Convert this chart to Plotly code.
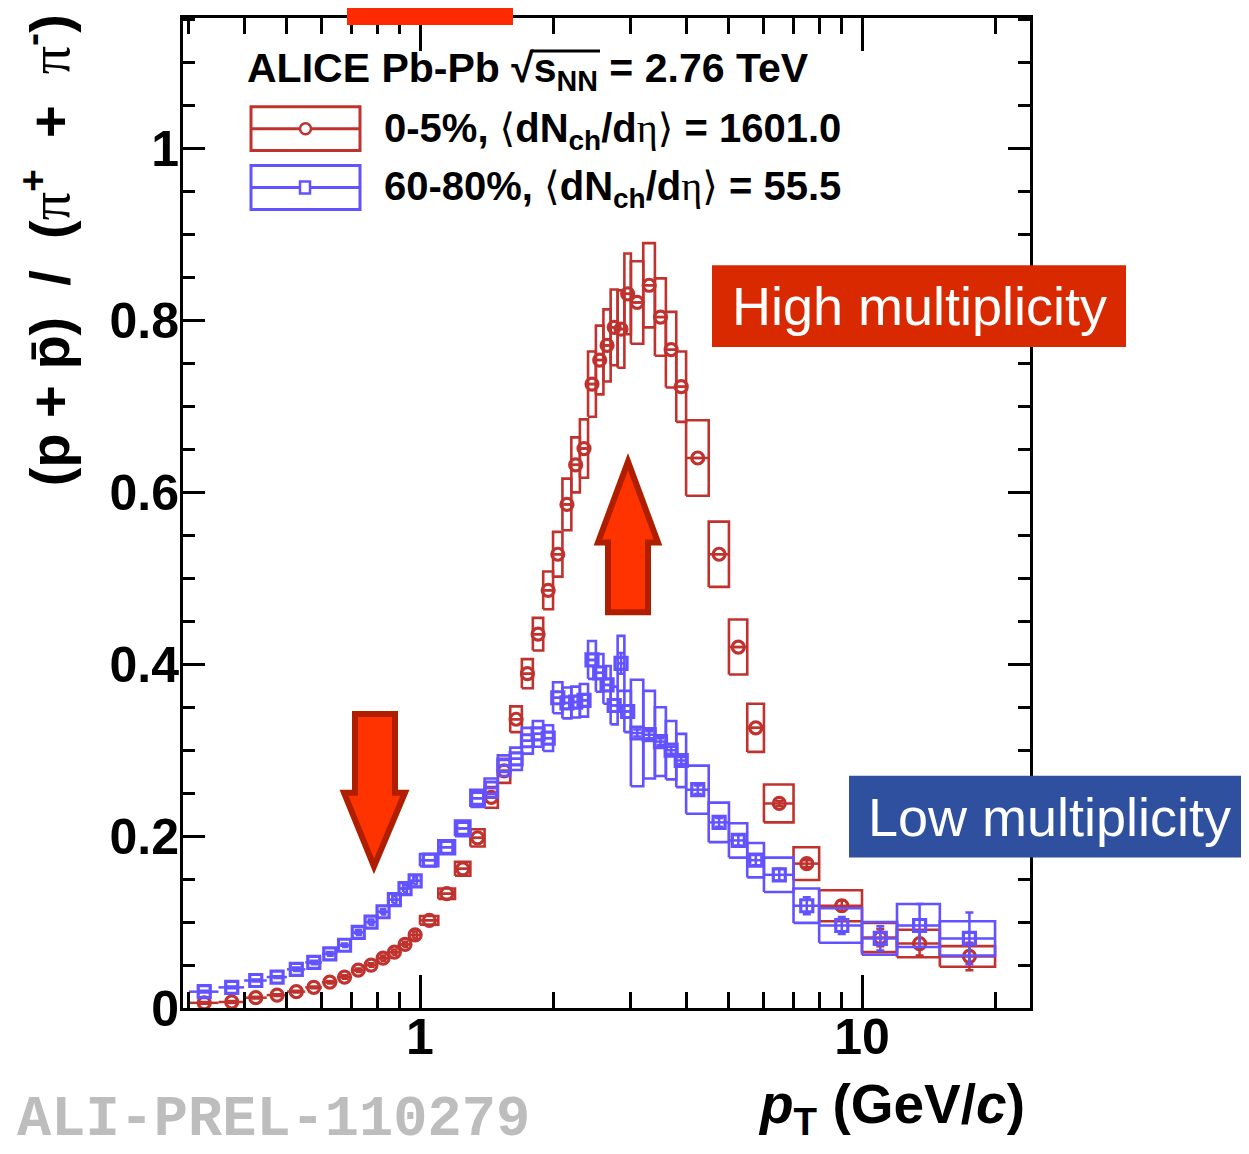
import plotly.graph_objects as go

# ---------------- data ----------------
pt = [0.325, 0.375, 0.425, 0.475, 0.525, 0.575, 0.625, 0.675, 0.725, 0.775,
      0.825, 0.875, 0.925, 0.975,
      1.05, 1.15, 1.25, 1.35, 1.45, 1.55, 1.65, 1.75, 1.85, 1.95,
      2.05, 2.15, 2.25, 2.35, 2.45, 2.55, 2.65, 2.75, 2.85, 2.95,
      3.1, 3.3, 3.5, 3.7, 3.9,
      4.25, 4.75, 5.25, 5.75, 6.5, 7.5, 9.0, 11.0, 13.5, 17.5]
pt_halfbin = [0.025] * 14 + [0.05] * 20 + [0.1] * 5 + [0.25] * 4 + [0.5, 0.5, 1.0, 1.0, 1.5, 2.5]
box_halfwidth = [0.009] * 14 + [0.05] * 20 + [0.1] * 5 + [0.25] * 4 + [0.5, 0.5, 1.0, 1.0, 1.5, 2.5]

central_ratio = [0.006, 0.007, 0.012, 0.015, 0.019, 0.024, 0.030, 0.036, 0.044, 0.050,
                 0.058, 0.065, 0.074, 0.085,
                 0.102, 0.133, 0.162, 0.198, 0.245, 0.276, 0.336, 0.389, 0.435, 0.486,
                 0.528, 0.586, 0.632, 0.651, 0.726, 0.754, 0.771, 0.792, 0.790, 0.831,
                 0.821, 0.841, 0.804, 0.766, 0.723,
                 0.640, 0.528, 0.420, 0.326, 0.238, 0.168, 0.119, 0.082, 0.075, 0.060]
central_sys = [0.001, 0.001, 0.001, 0.001, 0.001, 0.001, 0.0015, 0.002, 0.002, 0.002,
               0.003, 0.003, 0.003, 0.004,
               0.005, 0.006, 0.008, 0.010, 0.012, 0.014, 0.015, 0.017, 0.019, 0.022,
               0.026, 0.030, 0.032, 0.034, 0.038, 0.040, 0.042, 0.044, 0.045, 0.047,
               0.048, 0.049, 0.045, 0.044, 0.041,
               0.044, 0.038, 0.032, 0.028, 0.022, 0.019, 0.018, 0.017, 0.016, 0.012]
central_stat = [0.0] * 43 + [0.003, 0.004, 0.006, 0.010, 0.014, 0.016]

peripheral_ratio = [0.019, 0.024, 0.032, 0.036, 0.045, 0.053, 0.063, 0.073, 0.088, 0.100,
                    0.112, 0.126, 0.139, 0.148,
                    0.172, 0.187, 0.209, 0.244, 0.256, 0.282, 0.290, 0.311, 0.319, 0.314,
                    0.361, 0.355, 0.356, 0.358, 0.405, 0.390, 0.376, 0.352, 0.401, 0.345,
                    0.320, 0.318, 0.310, 0.300, 0.288,
                    0.254, 0.216, 0.195, 0.172, 0.155, 0.119, 0.096, 0.081, 0.096, 0.081]
peripheral_sys = [0.001, 0.001, 0.001, 0.001, 0.002, 0.002, 0.002, 0.002, 0.003, 0.003,
                  0.003, 0.004, 0.004, 0.004,
                  0.007, 0.008, 0.009, 0.010, 0.011, 0.012, 0.013, 0.015, 0.015, 0.015,
                  0.018, 0.018, 0.018, 0.019, 0.022, 0.022, 0.022, 0.022, 0.032, 0.024,
                  0.062, 0.051, 0.040, 0.034, 0.031,
                  0.028, 0.023, 0.020, 0.020, 0.020, 0.020, 0.020, 0.019, 0.025, 0.020]
peripheral_stat = [0.0] * 32 + [0.012, 0.0, 0.004, 0.004, 0.004, 0.004, 0.004,
                                0.005, 0.005, 0.006, 0.006, 0.007, 0.010, 0.010, 0.014, 0.025, 0.030]

RED = "rgb(192,50,46)"
BLUE = "rgb(98,82,255)"

# ---------------- helpers for decorations (pixel -> paper) ----------------
W, H = 1249, 1154
OFF = 8                      # page body margin
L, R, T, B = 183, 1030, 15, 1008


def px(x):
    return (x - L) / (R - L)


def py(y):
    return (B - y) / (B - T)


def box_path(xs, ys, xc, yc, hw, s):
    for x, y, w, e in zip(xc, yc, hw, s):
        x0, x1, y0, y1 = x - w, x + w, y - e, y + e
        xs += [x0, x1, x1, x0, x0, None]
        ys += [y0, y0, y1, y1, y0, None]


fig = go.Figure()

for yv, sysv, statv, col, sym, msize in [
    (central_ratio, central_sys, central_stat, RED, "circle-open", 12),
    (peripheral_ratio, peripheral_sys, peripheral_stat, BLUE, "square-open", 12),
]:
    bx, by = [], []
    box_path(bx, by, pt, yv, box_halfwidth, sysv)
    fig.add_trace(go.Scatter(x=bx, y=by, mode="lines", line=dict(color=col, width=2.6),
                             hoverinfo="skip", showlegend=False))
    fig.add_trace(go.Scatter(
        x=pt, y=yv, mode="markers",
        marker=dict(symbol=sym, size=msize, color=col, line=dict(width=3.2, color=col)),
        error_y=dict(type="data", array=statv, color=col, thickness=2.5, width=4),
        error_x=dict(type="data", array=pt_halfbin, color=col, thickness=2.5, width=0),
        showlegend=False))

shapes = []
# legend symbols
for (y0, y1, col, kind) in [(104, 148, RED, "circle"), (163, 207, BLUE, "square")]:
    ym = (y0 + y1) / 2
    shapes.append(dict(type="rect", xref="paper", yref="paper", x0=px(251), x1=px(360),
                       y0=py(y1), y1=py(y0), line=dict(color=col, width=3)))
    shapes.append(dict(type="line", xref="paper", yref="paper", x0=px(251), x1=px(360),
                       y0=py(ym), y1=py(ym), line=dict(color=col, width=3)))
    if kind == "circle":
        shapes.append(dict(type="circle", xref="paper", yref="paper", x0=px(300), x1=px(311),
                           y0=py(ym + 5.5), y1=py(ym - 5.5), fillcolor="white",
                           line=dict(color=col, width=2.5)))
    else:
        shapes.append(dict(type="rect", xref="paper", yref="paper", x0=px(300), x1=px(310),
                           y0=py(ym + 6), y1=py(ym - 6), fillcolor="white",
                           line=dict(color=col, width=2.5)))
# sqrt overbar
shapes.append(dict(type="line", xref="paper", yref="paper", x0=px(531), x1=px(600),
                   y0=py(48), y1=py(48), line=dict(color="black", width=3)))
# top red block
shapes.append(dict(type="rect", xref="paper", yref="paper", x0=px(347), x1=px(513),
                   y0=py(22), y1=py(-2), fillcolor="#FF2A00", line=dict(width=0), layer="above"))
# labels boxes
shapes.append(dict(type="rect", xref="paper", yref="paper", x0=px(712), x1=px(1126),
                   y0=py(345), y1=py(263), fillcolor="#D92900", line=dict(width=0), layer="above"))
shapes.append(dict(type="rect", xref="paper", yref="paper", x0=px(849), x1=px(1260),
                   y0=py(857), y1=py(775), fillcolor="#2E509E", line=dict(width=0), layer="above"))


def poly(points):
    return "M " + " L ".join(f"{px(a):.5f},{py(b):.5f}" for a, b in points) + " Z"


up_arrow = [(628, 460), (658, 541), (648, 541), (648, 611), (608, 611), (608, 541), (598, 541)]
down_arrow = [(374, 866), (405, 792), (395, 792), (395, 713), (355, 713), (355, 792), (344, 792)]
for pts in (up_arrow, down_arrow):
    shapes.append(dict(type="path", xref="paper", yref="paper", path=poly(pts),
                       fillcolor="#FF3300", line=dict(color="#B01E00", width=6), layer="above"))

F = "Liberation Sans"
SER = "Liberation Serif"
DJ = "DejaVu Sans"
eta = f"<span style='font-family:{SER};font-weight:normal'>η</span>"
lang = f"<span style='font-family:{DJ};font-weight:normal'>⟨</span>"
rang = f"<span style='font-family:{DJ};font-weight:normal'>⟩</span>"
pi = f"<span style='font-family:{SER};font-weight:normal'>π</span>"
NB = "\u00a0"

ann = [
    dict(x=px(245), y=py(68), xanchor="left", yanchor="middle",
         text="<b>ALICE Pb-Pb √s<sub>NN</sub> = 2.76 TeV</b>", font=dict(family=F, size=41)),
    dict(x=px(382), y=py(128), xanchor="left", yanchor="middle",
         text=f"<b>0-5%, {lang}dN<sub>ch</sub>/d{eta}{rang} = 1601.0</b>", font=dict(family=F, size=40)),
    dict(x=px(382), y=py(186), xanchor="left", yanchor="middle",
         text=f"<b>60-80%, {lang}dN<sub>ch</sub>/d{eta}{rang} = 55.5</b>", font=dict(family=F, size=40)),
    dict(x=px(919), y=py(304), xanchor="center", yanchor="middle", text="High multiplicity",
         font=dict(family=F, size=54, color="white")),
    dict(x=px(1049), y=py(816), xanchor="center", yanchor="middle", text="Low multiplicity",
         font=dict(family=F, size=54, color="white")),
    dict(x=px(1027), y=py(1108), xanchor="right", yanchor="middle",
         text="<b><i>p</i><sub>T</sub> (GeV/<i>c</i>)</b>", font=dict(family=F, size=55)),
    dict(x=px(46), y=py(248), xanchor="center", yanchor="middle", textangle=-90,
         text=(f"<b>(p + p̄){NB}{NB}/{NB}{NB}({pi}<sup>+</sup>{NB} + {NB}{pi}<sup>-</sup>)</b>"),
         font=dict(family=F, size=56)),
    dict(x=px(15), y=py(1120), xanchor="left", yanchor="middle", text="<b>ALI-PREL-110279</b>",
         font=dict(family="Liberation Mono", size=57, color="#BDBDBD")),
]
for a in ann:
    a.update(xref="paper", yref="paper", showarrow=False)
    a["font"].setdefault("color", "black")

x_major = [1, 10]
x_minor = [0.3, 0.4, 0.5, 0.6, 0.7, 0.8, 0.9, 2, 3, 4, 5, 6, 7, 8, 9, 20]
y_major = [0, 0.2, 0.4, 0.6, 0.8, 1.0]
y_labels = ["0", "0.2", "0.4", "0.6", "0.8", "1"]

fig.update_layout(
    width=W - OFF, height=H - OFF, autosize=False,
    margin=dict(l=L - OFF, r=W - R, t=T - OFF, b=H - B, pad=0),
    paper_bgcolor="white", plot_bgcolor="white",
    font=dict(family=F, color="black"),
    shapes=shapes, annotations=ann, showlegend=False,
    xaxis=dict(type="log", range=[-0.5362, 1.3801], showgrid=False, zeroline=False,
               showline=True, linecolor="black", linewidth=3, mirror="ticks",
               ticks="inside", ticklen=33, tickwidth=2.5, tickcolor="black",
               tickmode="array", tickvals=x_major, ticktext=[f"<b>{v}</b>" for v in x_major],
               tickfont=dict(family=F, size=50, color="black"), ticklabelstandoff=-17,
               minor=dict(tickmode="array", tickvals=x_minor, ticks="inside", ticklen=16,
                          tickwidth=2.5, tickcolor="black", showgrid=False)),
    yaxis=dict(range=[0, 1.152], showgrid=False, zeroline=False,
               showline=True, linecolor="black", linewidth=3, mirror="ticks",
               ticks="inside", ticklen=22, tickwidth=2.5, tickcolor="black",
               tickmode="array", tickvals=y_major, ticktext=[f"<b>{t}</b>" for t in y_labels],
               tickfont=dict(family=F, size=50, color="black"), ticklabelstandoff=-9,
               minor=dict(dtick=0.05, ticks="inside", ticklen=12, tickwidth=2.5,
                          tickcolor="black", showgrid=False)),
)

fig.write_html("out.html")
